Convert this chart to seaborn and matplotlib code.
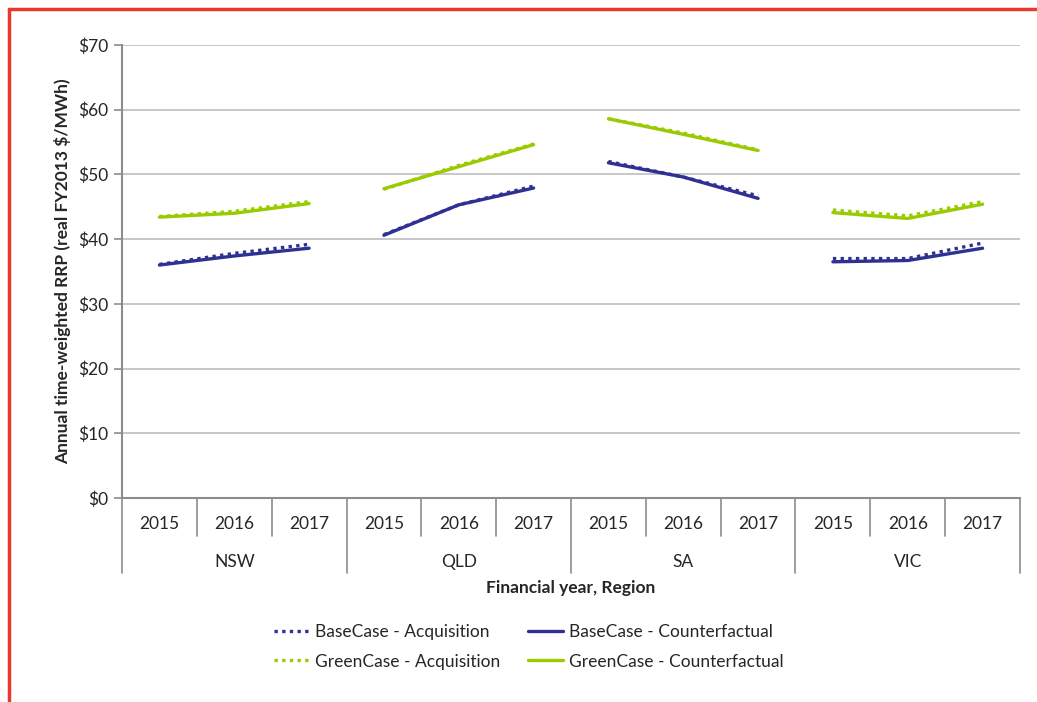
import matplotlib
matplotlib.use("Agg")
import matplotlib.pyplot as plt
import matplotlib.transforms as mtransforms
from matplotlib.lines import Line2D
import seaborn as sns
import pandas as pd

regions = ["NSW", "QLD", "SA", "VIC"]
years = ["2015", "2016", "2017"]
series_names = ["BaseCase - Acquisition", "BaseCase - Counterfactual",
                "GreenCase - Acquisition", "GreenCase - Counterfactual"]

base_acq = [36.1, 37.8, 39.2, 40.7, 45.3, 48.2, 52.0, 49.6, 46.7, 37.0, 37.0, 39.4]
base_cf = [36.0, 37.4, 38.6, 40.6, 45.3, 47.9, 51.8, 49.6, 46.3, 36.5, 36.7, 38.6]
green_acq = [43.5, 44.3, 45.8, 47.7, 51.4, 54.7, 58.6, 56.4, 53.8, 44.5, 43.6, 45.8]
green_cf = [43.4, 44.0, 45.5, 47.8, 51.2, 54.6, 58.6, 56.2, 53.7, 44.1, 43.2, 45.4]

y_ticks = [0, 10, 20, 30, 40, 50, 60, 70]
y_tick_labels = ["$0", "$10", "$20", "$30", "$40", "$50", "$60", "$70"]

BLUE = "#2E3192"
GREEN = "#99CC00"

rows = []
for name, vals in zip(series_names, [base_acq, base_cf, green_acq, green_cf]):
    for i, v in enumerate(vals):
        r = regions[i // 3]
        y = years[i % 3]
        rows.append({"cat": f"{r} {y}", "region": r, "series": name, "value": v})
df = pd.DataFrame(rows)

sns.set_theme(style="white")
plt.rcParams["font.family"] = ["Lato", "DejaVu Sans"]

fig = plt.figure(figsize=(10.37, 7.02), dpi=100)
ax = fig.add_axes([122 / 1037, 1 - 498 / 702, (1020 - 122) / 1037, (498 - 45) / 702])

palette = {series_names[0]: BLUE, series_names[1]: BLUE,
           series_names[2]: GREEN, series_names[3]: GREEN}
dashes = {series_names[0]: (1, 1.3), series_names[1]: "",
          series_names[2]: (1, 1.3), series_names[3]: ""}

order = [series_names[1], series_names[3], series_names[0], series_names[2]]
sns.lineplot(data=df, x="cat", y="value", hue="series", style="series",
             units="region", estimator=None, palette=palette, dashes=dashes,
             hue_order=order, style_order=order, linewidth=2.4,
             sort=False, legend=False, ax=ax)

ax.set_xlim(-0.5, 11.5)
ax.set_ylim(0, 70)
ax.set_yticks(y_ticks)
ax.set_yticklabels(y_tick_labels, fontsize=12.5)
ax.yaxis.grid(True, color="#BDBDBD", linewidth=1.2)
ax.set_axisbelow(True)
for s in ["top", "right"]:
    ax.spines[s].set_visible(False)
ax.spines["left"].set_color("#8C8C8C")
ax.spines["left"].set_linewidth(1.5)
ax.spines["bottom"].set_color("#8C8C8C")
ax.spines["bottom"].set_linewidth(1.5)
ax.tick_params(axis="y", which="both", left=True, length=6, width=1.2,
               color="#8C8C8C", pad=4)

ax.set_xticks(range(12))
ax.set_xticklabels(years * 4, fontsize=12.5)
ax.tick_params(axis="x", length=0, pad=13)
ax.set_xlabel("")
ax.set_ylabel("Annual time-weighted RRP (real FY2013 $/MWh)", fontsize=12.5,
              fontweight="bold", labelpad=5)

trans = mtransforms.blended_transform_factory(ax.transData, fig.transFigure)
yb = 1 - 498 / 702
y_year = 1 - 536 / 702
y_reg = 1 - 573 / 702
for i in range(13):
    x = i - 0.5
    y_end = y_reg if i % 3 == 0 else y_year
    ax.add_line(Line2D([x, x], [yb, y_end], transform=trans, color="#8C8C8C",
                       linewidth=1.2, clip_on=False))
for k, r in enumerate(regions):
    ax.text(3 * k + 1, 1 - 562 / 702, r, transform=trans, ha="center",
            va="center", fontsize=12.5)

fig.text((122 + 1020) / 2 / 1037, 1 - 588 / 702, "Financial year, Region",
         ha="center", va="center", fontsize=12.5, fontweight="bold")

handles = [Line2D([0], [0], color=BLUE, lw=2.4, dashes=(1, 1.3)),
           Line2D([0], [0], color=BLUE, lw=2.4),
           Line2D([0], [0], color=GREEN, lw=2.4, dashes=(1, 1.3)),
           Line2D([0], [0], color=GREEN, lw=2.4)]
fig.legend([handles[0], handles[2], handles[1], handles[3]],
           [series_names[0], series_names[2], series_names[1], series_names[3]],
           ncol=2, loc="center", bbox_to_anchor=(529 / 1037, 1 - 647 / 702),
           frameon=False, fontsize=12.5, handlelength=2.0, handletextpad=0.35,
           columnspacing=1.6, labelspacing=0.75)

fig.add_artist(Line2D([9 / 1037, 9 / 1037], [0, 1 - 9 / 702], transform=fig.transFigure,
                      color="#E8382F", linewidth=2.5))
fig.add_artist(Line2D([9 / 1037, 1], [1 - 9 / 702, 1 - 9 / 702], transform=fig.transFigure,
                      color="#E8382F", linewidth=2.5))

fig.savefig("out.png", dpi=100)
